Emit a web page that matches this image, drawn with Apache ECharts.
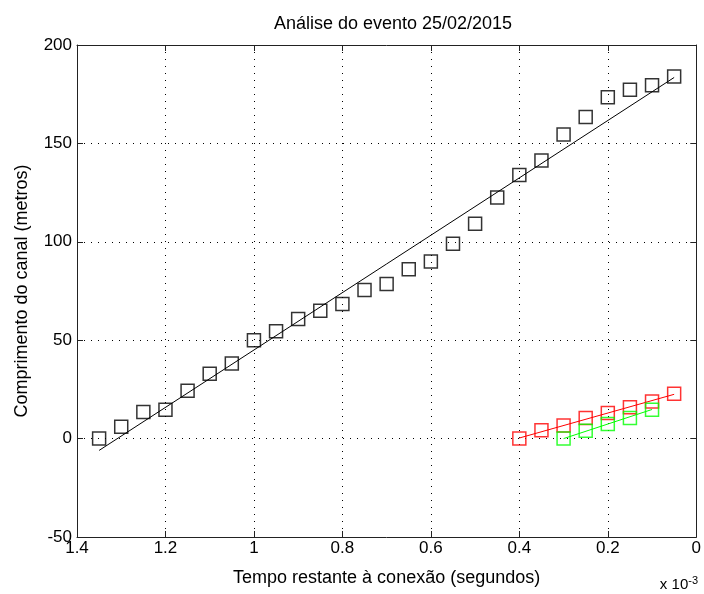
<!DOCTYPE html>
<html>
<head>
<meta charset="utf-8">
<script src="https://cdn.jsdelivr.net/npm/echarts@6/dist/echarts.min.js"></script>
<style>
  html, body { margin: 0; padding: 0; background: #fff; }
  #chart { width: 704px; height: 594px; }
</style>
</head>
<body>
<div id="chart"></div>
<script>
// time to connection, in units of 1e-3 s
const blackX = [1.35, 1.30, 1.25, 1.20, 1.15, 1.10, 1.05, 1.00, 0.95, 0.90, 0.85, 0.80, 0.75, 0.70,
  0.65, 0.60, 0.55, 0.50, 0.45, 0.40, 0.35, 0.30, 0.25, 0.20, 0.15, 0.10, 0.05];
const blackY = [0, 6, 13.5, 14.7, 24.3, 33, 38.2, 50, 54.5, 60.8, 65, 68.4, 75.5, 78.5,
  86, 90, 99, 109.2, 122.5, 134, 141.3, 154.5, 163.4, 173.5, 177.2, 179.5, 184];
const blackFitX = [1.35, 0.05];
const blackFitY = [-6, 183.5];

const redX = [0.40, 0.35, 0.30, 0.25, 0.20, 0.15, 0.10, 0.05];
const redY = [0, 4.2, 6.6, 10.5, 13, 15.9, 18.9, 22.8];
const redFitX = [0.40, 0.05];
const redFitY = [0.3, 22.5];

const greenX = [0.30, 0.25, 0.20, 0.15, 0.10];
const greenY = [0, 4, 7.4, 10.5, 14.7];
const greenFitX = [0.30, 0.10];
const greenFitY = [0, 14.8];

const xTicks = { min: 0, max: 1.4, interval: 0.2 };
const yTicks = { min: -50, max: 200, interval: 50 };

const FONT = 'Liberation Sans, Arial, sans-serif';

function pairs(xs, ys) {
  return xs.map((x, i) => [x, ys[i]]);
}

function squares(name, xs, ys, color) {
  return {
    name: name,
    type: 'scatter',
    data: pairs(xs, ys),
    symbol: 'rect',
    symbolSize: 13,
    itemStyle: { color: 'transparent', borderColor: color, borderWidth: 1.5 },
    z: 3
  };
}

function fitLine(name, xs, ys, color) {
  return {
    name: name,
    type: 'line',
    data: pairs(xs, ys),
    symbol: 'none',
    lineStyle: { color: color, width: 1 },
    z: 2
  };
}

const chart = echarts.init(document.getElementById('chart'));
const dotted = { color: '#000', width: 1, type: [1, 6] };
const axisLine = { show: true, onZero: false, lineStyle: { color: '#222', width: 1 } };
const tick = { show: true, inside: true, length: 6, lineStyle: { color: '#222' } };

chart.setOption({
  animation: false,
  backgroundColor: '#fff',
  title: {
    text: 'Análise do evento 25/02/2015',
    left: 388,
    textAlign: 'center',
    top: 10,
    textStyle: { fontFamily: FONT, fontSize: 18, fontWeight: 'normal', color: '#000' }
  },
  grid: { left: 77, right: 4, top: 45, bottom: 57 },
  xAxis: [
    {
      type: 'value',
      inverse: true,
      min: xTicks.min, max: xTicks.max, interval: xTicks.interval,
      name: 'Tempo restante à conexão (segundos)',
      nameLocation: 'middle',
      nameGap: 32,
      nameTextStyle: { fontFamily: FONT, fontSize: 18, color: '#000' },
      axisLine: axisLine,
      axisTick: tick,
      axisLabel: { fontFamily: FONT, fontSize: 17, color: '#000', margin: 3 },
      splitLine: { show: true, lineStyle: dotted }
    },
    {
      type: 'value',
      position: 'top',
      inverse: true,
      min: xTicks.min, max: xTicks.max, interval: xTicks.interval,
      axisLine: axisLine,
      axisTick: tick,
      axisLabel: { show: false },
      splitLine: { show: false }
    }
  ],
  yAxis: [
    {
      type: 'value',
      min: yTicks.min, max: yTicks.max, interval: yTicks.interval,
      name: 'Comprimento do canal (metros)',
      nameLocation: 'middle',
      nameGap: 46,
      nameTextStyle: { fontFamily: FONT, fontSize: 18, color: '#000' },
      axisLine: axisLine,
      axisTick: tick,
      axisLabel: { fontFamily: FONT, fontSize: 17, color: '#000', margin: 5 },
      splitLine: { show: true, lineStyle: dotted }
    },
    {
      type: 'value',
      position: 'right',
      min: yTicks.min, max: yTicks.max, interval: yTicks.interval,
      axisLine: axisLine,
      axisTick: tick,
      axisLabel: { show: false },
      splitLine: { show: false }
    }
  ],
  graphic: [
    {
      type: 'text',
      right: 6,
      bottom: 2,
      style: {
        text: 'x 10{sup|-3}',
        fontFamily: FONT,
        fontSize: 15,
        fill: '#000',
        rich: { sup: { fontFamily: FONT, fontSize: 11, verticalAlign: 'top', padding: [0, 0, 8, 0] } }
      }
    }
  ],
  series: [
    squares('medidos', blackX, blackY, '#000'),
    fitLine('ajuste', blackFitX, blackFitY, '#000'),
    squares('vermelho', redX, redY, '#ff0000'),
    fitLine('ajuste vermelho', redFitX, redFitY, '#ff0000'),
    squares('verde', greenX, greenY, '#00ff00'),
    fitLine('ajuste verde', greenFitX, greenFitY, '#00ff00')
  ]
});
</script>
</body>
</html>
